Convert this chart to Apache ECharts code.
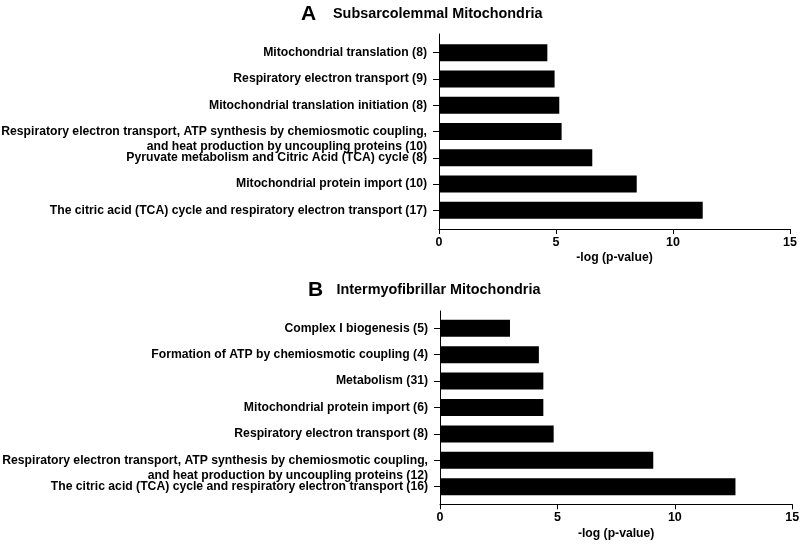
<!DOCTYPE html>
<html>
<head>
<meta charset="utf-8">
<script src="https://cdn.jsdelivr.net/npm/echarts@6/dist/echarts.min.js"></script>
<style>html,body{margin:0;padding:0;background:#fff}#c{width:800px;height:553px}</style>
</head>
<body>
<div id="c"></div>
<script>
var catsA = [
  'Mitochondrial translation (8)',
  'Respiratory electron transport (9)',
  'Mitochondrial translation initiation (8)',
  'Respiratory electron transport, ATP synthesis by chemiosmotic coupling,\nand heat production by uncoupling proteins (10)',
  'Pyruvate metabolism and Citric Acid (TCA) cycle (8)',
  'Mitochondrial protein import (10)',
  'The citric acid (TCA) cycle and respiratory electron transport (17)'
];
var valsA = [4.63, 4.94, 5.14, 5.24, 6.55, 8.45, 11.27];

var catsB = [
  'Complex I biogenesis (5)',
  'Formation of ATP by chemiosmotic coupling (4)',
  'Metabolism (31)',
  'Mitochondrial protein import (6)',
  'Respiratory electron transport (8)',
  'Respiratory electron transport, ATP synthesis by chemiosmotic coupling,\nand heat production by uncoupling proteins (12)',
  'The citric acid (TCA) cycle and respiratory electron transport (16)'
];
var valsB = [2.98, 4.21, 4.40, 4.40, 4.84, 9.08, 12.58];

var xTicks = [0, 5, 10, 15];
var xName = '-log (p-value)';
var titleA = 'Subsarcolemmal Mitochondria';
var titleB = 'Intermyofibrillar Mitochondria';

var FONT = '"Liberation Sans", Arial, Helvetica, sans-serif';

var chart = echarts.init(document.getElementById('c'), null, { renderer: 'canvas' });

function xAxisDef(gi, offset) {
  return {
    gridIndex: gi, type: 'value', min: xTicks[0], max: xTicks[xTicks.length - 1], interval: 5,
    offset: offset,
    name: xName, nameLocation: 'middle', nameGap: 23,
    nameTextStyle: { fontFamily: FONT, fontWeight: 'bold', fontSize: 12.2, color: '#000' },
    axisLine: { show: true, lineStyle: { color: '#000', width: 1 } },
    axisTick: { show: true, length: 5, lineStyle: { color: '#000' } },
    axisLabel: { fontFamily: FONT, fontWeight: 'bold', fontSize: 12.5, color: '#000', margin: 7 },
    splitLine: { show: false }
  };
}
function yAxisDef(gi, cats) {
  return {
    gridIndex: gi, type: 'category', inverse: true, data: cats,
    axisLine: { show: true, lineStyle: { color: '#000', width: 1 } },
    axisTick: { show: true, length: 6, alignWithLabel: true, lineStyle: { color: '#000' } },
    axisLabel: {
      interval: 0, fontFamily: FONT, fontWeight: 'bold', fontSize: 12.2, color: '#000',
      margin: 12, lineHeight: 15, align: 'right',
      formatter: function (v) { return v.indexOf('\n') >= 0 ? '\n' + v : v; }
    },
    splitLine: { show: false }
  };
}
function lineOnlyX(gi) {
  return { gridIndex: gi, type: 'value', show: false, min: 0, max: 1 };
}
function lineOnlyY(gi) {
  return {
    gridIndex: gi, type: 'value', min: 0, max: 1,
    axisLine: { show: true, lineStyle: { color: '#000', width: 1 } },
    axisTick: { show: false }, axisLabel: { show: false }, splitLine: { show: false }
  };
}

chart.setOption({
  animation: false,
  backgroundColor: '#fff',
  title: [
    { text: 'A', left: 301, top: 4, padding: 0, textStyle: { fontFamily: FONT, fontWeight: 'bold', fontSize: 21, color: '#000' } },
    { text: titleA, left: 333, top: 7.5, padding: 0, textStyle: { fontFamily: FONT, fontWeight: 'bold', fontSize: 14.4, color: '#000' } },
    { text: 'B', left: 308, top: 279.5, padding: 0, textStyle: { fontFamily: FONT, fontWeight: 'bold', fontSize: 21, color: '#000' } },
    { text: titleB, left: 336.5, top: 283, padding: 0, textStyle: { fontFamily: FONT, fontWeight: 'bold', fontSize: 14.4, color: '#000' } }
  ],
  grid: [
    { left: 439, right: 10, top: 39.5, height: 184, outerBoundsMode: 'none', containLabel: false },
    { left: 440, right: 7.7, top: 315.1, height: 184.8, outerBoundsMode: 'none', containLabel: false },
    { left: 439, right: 10, top: 34, height: 195, outerBoundsMode: 'none', containLabel: false },
    { left: 440, right: 7.7, top: 311, height: 193.3, outerBoundsMode: 'none', containLabel: false }
  ],
  xAxis: [xAxisDef(0, 5.5), xAxisDef(1, 4.4), lineOnlyX(2), lineOnlyX(3)],
  yAxis: [yAxisDef(0, catsA), yAxisDef(1, catsB), lineOnlyY(2), lineOnlyY(3)],
  series: [
    { type: 'bar', xAxisIndex: 0, yAxisIndex: 0, data: valsA, barWidth: 17,
      itemStyle: { color: '#000' } },
    { type: 'bar', xAxisIndex: 1, yAxisIndex: 1, data: valsB, barWidth: 17,
      itemStyle: { color: '#000' } }
  ]
});
</script>
</body>
</html>
